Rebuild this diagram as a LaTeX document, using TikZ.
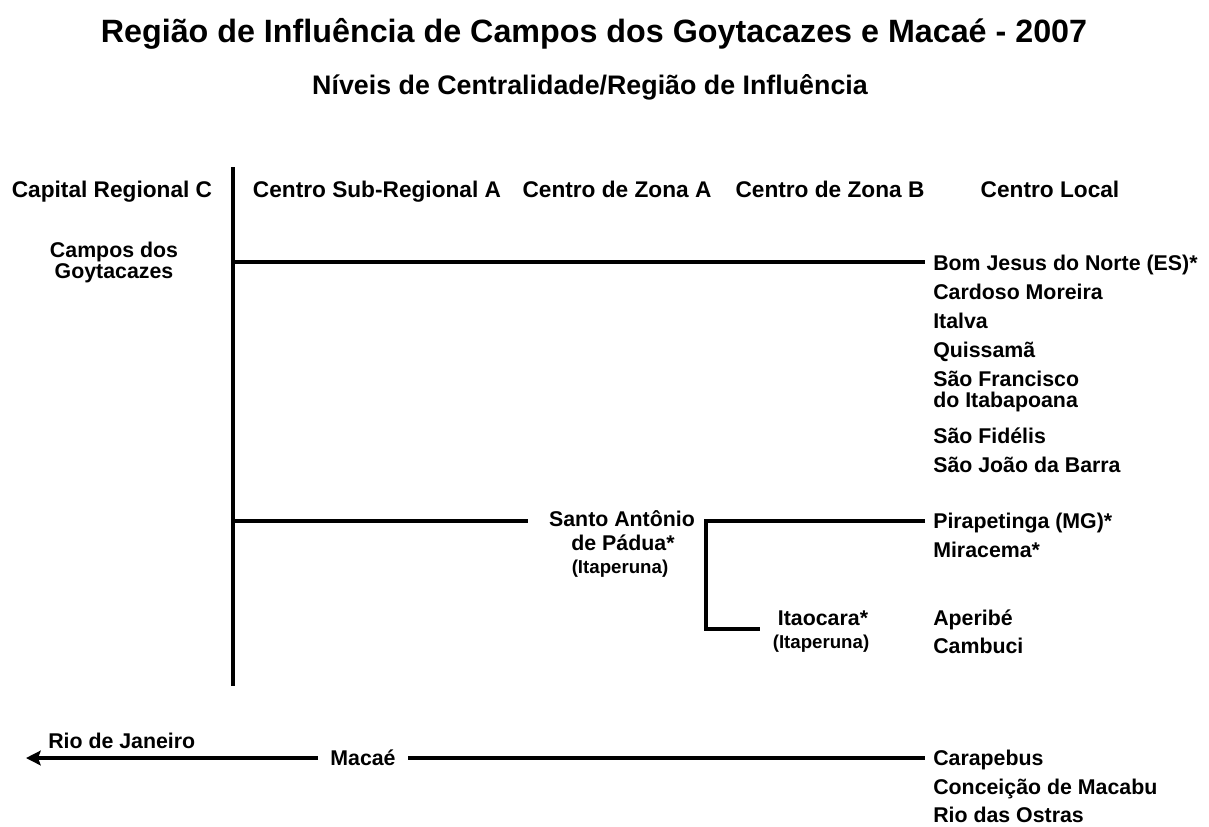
\documentclass[tikz,border=0pt]{standalone}
\usepackage{fontspec}
\setmainfont{Liberation Sans}[BoldFont={Liberation Sans Bold}]
\usetikzlibrary{arrows.meta}
\tikzset{
  lbl/.style={font=\bfseries\fontsize{16}{17}\selectfont, inner sep=0pt, anchor=base},
  hdr/.style={font=\bfseries\fontsize{17}{18}\selectfont, inner sep=0pt, anchor=base},
  loc/.style={lbl, anchor=base west},
  sml/.style={font=\bfseries\fontsize{14}{15}\selectfont, inner sep=0pt, anchor=base},
  link/.style={line width=3pt},
}
\begin{document}
\begin{tikzpicture}[x=0.75pt,y=-0.75pt]
\useasboundingbox (0,0) rectangle (1209,826);
% titles
\node[font=\bfseries\fontsize{24.2}{26}\selectfont, inner sep=0pt, anchor=base] (title) at (594,42) {Região de Influência de Campos dos Goytacazes e Macaé - 2007};
\node[font=\bfseries\fontsize{20.1}{22}\selectfont, inner sep=0pt, anchor=base] (sub) at (590,94) {Níveis de Centralidade/Região de Influência};
% headers
\node[hdr] (h1) at (112,197) {Capital Regional C};
\node[hdr] (h2) at (377,197) {Centro Sub-Regional A};
\node[hdr] (h3) at (617,197) {Centro de Zona A};
\node[hdr] (h4) at (830,197) {Centro de Zona B};
\node[hdr] (h5) at (1050,197) {Centro Local};
% vertical axis
\coordinate (vtop) at (233,167);
\coordinate (vbot) at (233,686);
\draw[link] (vtop) -- (vbot);
% Campos
\node[lbl] (campos1) at (114,257) {Campos dos};
\node[lbl] (campos2) at (114,278) {Goytacazes};
\node[loc] (bj) at (933,270) {Bom Jesus do Norte (ES)*};
\node[loc] (cm) at (933,299) {Cardoso Moreira};
\node[loc] (it) at (933,328) {Italva};
\node[loc] (qu) at (933,357) {Quissamã};
\node[loc] (sf1) at (933,386) {São Francisco};
\node[loc] (sf2) at (933,407) {do Itabapoana};
\node[loc] (sfi) at (933,443) {São Fidélis};
\node[loc] (sjb) at (933,472) {São João da Barra};
\coordinate (c1) at (233,262);
\coordinate (c1e) at (925,262);
\draw[link] (c1) -- (c1e);
% Santo Antonio de Padua
\node[lbl] (sap1) at (622,526) {Santo Antônio};
\node[lbl] (sap2) at (623,550) {de Pádua*};
\node[sml] (sapi) at (620,573) {(Itaperuna)};
\coordinate (s1) at (233,521);
\coordinate (s2) at (528,521);
\draw[link] (s1) -- (s2);
\node[loc] (pir) at (933,528) {Pirapetinga (MG)*};
\node[loc] (mir) at (933,557) {Miracema*};
\coordinate (bre) at (925,521);
\coordinate (br) at (706,521);
\coordinate (brb) at (760,629);
\draw[link] (bre) -- (br) |- (brb);
\node[lbl] (ita) at (823,625) {Itaocara*};
\node[sml] (itai) at (821,648) {(Itaperuna)};
\node[loc] (ape) at (933,625) {Aperibé};
\node[loc] (cam) at (933,653) {Cambuci};
% Macae
\node[lbl] (mac) at (363,765) {Macaé};
\node[loc] (rio) at (48,748) {Rio de Janeiro};
\coordinate (m0) at (318,758);
\coordinate (rioend) at (26,758);
\draw[link, -{Stealth[length=11, width=11, inset=2]}] (m0) -- (rioend);
\node[loc] (car) at (933,765) {Carapebus};
\node[loc] (con) at (933,794) {Conceição de Macabu};
\node[loc] (ros) at (933,822) {Rio das Ostras};
\coordinate (m1) at (408,758);
\coordinate (m2) at (925,758);
\draw[link] (m1) -- (m2);
\end{tikzpicture}
\end{document}
